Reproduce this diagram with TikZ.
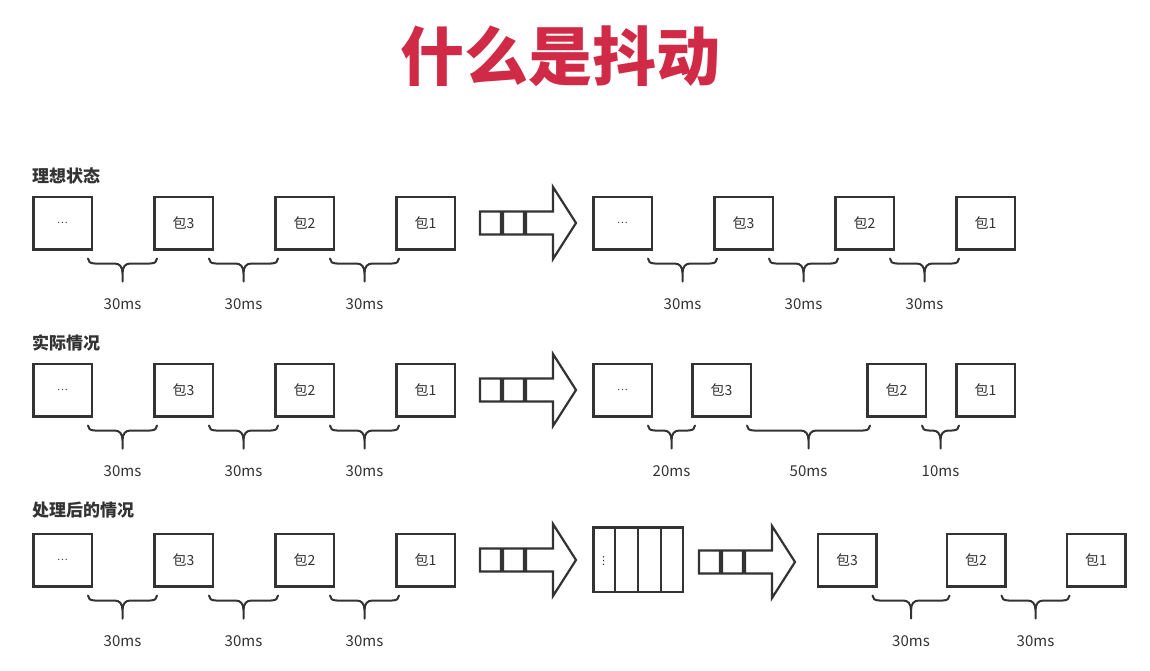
\documentclass[tikz,border=0pt]{standalone}
\usepackage{fontspec}
\setmainfont{Noto Sans CJK SC}
\newfontfamily\symfont{DejaVu Sans}
\usepackage{tikz}
\usetikzlibrary{positioning,calc}
\definecolor{titlered}{HTML}{D12A46}
\definecolor{ink}{HTML}{333333}
\tikzset{
  pagetitle/.style={font=\fontsize{64}{64}\selectfont\bfseries, text=titlered, inner sep=0pt},
  rowtitle/.style={font=\fontsize{17}{17}\selectfont\bfseries, text=ink, anchor=west, inner sep=0pt},
  pktbox/.style={
    rectangle, draw=ink, line width=2.5pt, fill=white,
    minimum width=58.5pt, minimum height=52.5pt, inner sep=0pt,
    font=\fontsize{14}{14}\selectfont, text=ink
  },
  gaplabel/.style={font=\fontsize{15}{15}\selectfont, text=ink, inner sep=0pt},
  bracestroke/.style={draw=ink, line width=2pt, line cap=round, line join=round},
  queuebox/.style={rectangle, draw=ink, line width=2.5pt, minimum width=89.5pt, minimum height=64.5pt, inner sep=0pt},
  pics/pipe/.style={code={
    \draw[draw=ink, line width=2.2pt]
      (0,-11.5) rectangle (21,11.5)
      (23,-11.5) rectangle (44,11.5)
      (46,-11.5) -- (73,-11.5) -- (73,-36) -- (96,0) -- (73,36) -- (73,11.5) -- (46,11.5) -- cycle;
  }},
}
% brace under the gap between two boxes, with its label
\newcommand{\gapbrace}[4]{%
  \coordinate (bl) at ($(#1.south east)+(-5pt,-8pt)$);
  \coordinate (br) at ($(#2.south west)+(4pt,-8pt)$);
  \coordinate (bm) at ($(bl)!.5!(br)$);
  \draw[bracestroke] (bl) .. controls +(0,-3pt) and +(-5pt,0) .. ($(bl)+(7pt,-5pt)$)
    -- ($(bm)+(-8pt,-5pt)$) .. controls +(5pt,0) and +(0,7pt) .. ($(bm)+(0,-15pt)$) -- ($(bm)+(0,-23pt)$)
    (br) .. controls +(0,-3pt) and +(5pt,0) .. ($(br)+(-7pt,-5pt)$)
    -- ($(bm)+(8pt,-5pt)$) .. controls +(-5pt,0) and +(0,7pt) .. ($(bm)+(0,-15pt)$);
  \node[gaplabel] (#3) at ($(bm)+(0,-46pt)$) {#4};
}

\begin{document}
\begin{tikzpicture}[x=1pt, y=-1pt]
  \useasboundingbox (0,0) rectangle (1150,671);
  \fill[white] (0,0) rectangle (1150,671);
  \node[pagetitle] (title) at (560,56) {什么是抖动};

  \node[rowtitle] (ideal) at (32,176) {理想状态};
  \node[rowtitle] (real) at (32,343) {实际情况};
  \node[rowtitle] (fixed) at (32,510) {处理后的情况};

  % sending side, same in every row
  \foreach \row/\y in {a/223,b/390,c/560}{
    \node[pktbox] (\row0) at (62.5,\y) {\fontsize{10}{10}\selectfont\ldots};
    \node[pktbox, right=60pt of \row0] (\row3) {包3};
    \node[pktbox, right=60pt of \row3] (\row2) {包2};
    \node[pktbox, right=60pt of \row2] (\row1) {包1};
    \gapbrace{\row0}{\row3}{gap\row1}{30ms}
    \gapbrace{\row3}{\row2}{gap\row2}{30ms}
    \gapbrace{\row2}{\row1}{gap\row3}{30ms}
    \pic at (480,\y) {pipe};
  }

  % ideal: receiving side
  \node[pktbox] (ra0) at (622.5,223) {\fontsize{10}{10}\selectfont\ldots};
  \node[pktbox, right=60pt of ra0] (ra3) {包3};
  \node[pktbox, right=60pt of ra3] (ra2) {包2};
  \node[pktbox, right=60pt of ra2] (ra1) {包1};
  \gapbrace{ra0}{ra3}{rgapa1}{30ms}
  \gapbrace{ra3}{ra2}{rgapa2}{30ms}
  \gapbrace{ra2}{ra1}{rgapa3}{30ms}

  % real: receiving side
  \node[pktbox] (rb0) at (622.5,390) {\fontsize{10}{10}\selectfont\ldots};
  \node[pktbox, right=38pt of rb0] (rb3) {包3};
  \node[pktbox, right=114pt of rb3] (rb2) {包2};
  \node[pktbox, right=28pt of rb2] (rb1) {包1};
  \gapbrace{rb0}{rb3}{rgapb1}{20ms}
  \gapbrace{rb3}{rb2}{rgapb2}{50ms}
  \gapbrace{rb2}{rb1}{rgapb3}{10ms}

  % fixed: buffer, then even output
  \node[queuebox] (queue) at (638,559.5) {};
  \foreach \k in {1,2,3}
    \draw[draw=ink, line width=2.2pt] ($(queue.north west)!\k/4!(queue.north east)$) -- ($(queue.south west)!\k/4!(queue.south east)$);
  \node[text=ink, inner sep=0pt, font=\symfont\fontsize{11}{11}\selectfont] (qdots) at (603.5,561) {⋮};
  \pic at (699,562) {pipe};
  \node[pktbox] (rc3) at (847,560) {包3};
  \node[pktbox, right=68pt of rc3] (rc2) {包2};
  \node[pktbox, right=59pt of rc2] (rc1) {包1};
  \gapbrace{rc3}{rc2}{rgapc1}{30ms}
  \gapbrace{rc2}{rc1}{rgapc2}{30ms}
\end{tikzpicture}
\end{document}
